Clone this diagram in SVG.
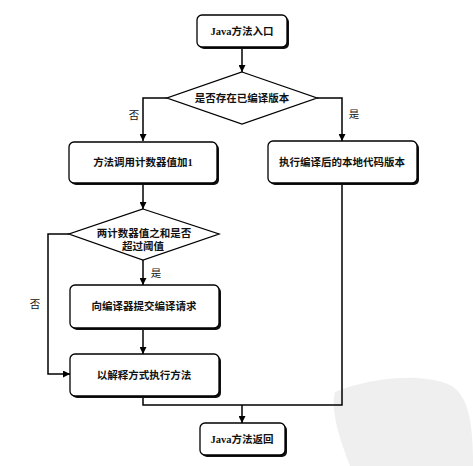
<svg xmlns="http://www.w3.org/2000/svg" width="473" height="466" viewBox="0 0 473 466">
<style>
.box{fill:#fff;stroke:#000;stroke-width:1.3}
.sh{fill:#111}
.t{font-family:"Liberation Serif","Noto Sans CJK SC",serif;font-size:10.5px;font-weight:bold;fill:#111;text-anchor:middle;dominant-baseline:central}
.l{font-family:"Noto Sans CJK SC",sans-serif;font-size:10.5px;fill:#111;text-anchor:middle;dominant-baseline:central}
.c{fill:none;stroke:#000;stroke-width:1.5}
</style>
<defs>
<marker id="a" viewBox="0 0 8 8" refX="8" refY="4" markerWidth="7" markerHeight="7" markerUnits="userSpaceOnUse" orient="auto">
<path d="M0,0 L8,4 L0,8 Z" fill="#000"/>
</marker>
</defs>
<rect width="473" height="466" fill="#fff"/>
<path id="watermark" d="M335,392 C370,378 420,372 450,385 C468,395 473,420 473,466 L350,466 C340,440 330,410 335,392 Z" fill="#efefef"/>
<g id="connectors">
<path class="c" d="M242,47 V72" marker-end="url(#a)"/>
<path class="c" d="M167,98 H143 V141" marker-end="url(#a)"/>
<path class="c" d="M317,98 H342 V141" marker-end="url(#a)"/>
<path class="c" d="M143,183 V209" marker-end="url(#a)"/>
<path class="c" d="M143,260 V285" marker-end="url(#a)"/>
<path class="c" d="M69,234 H48 V374 H70" marker-end="url(#a)"/>
<path class="c" d="M143,328 V354" marker-end="url(#a)"/>
<path class="c" d="M143,397 V405 H342 V183"/>
<path class="c" d="M242,405 V423" marker-end="url(#a)"/>
<text class="l" x="134" y="114">否</text>
<text class="l" x="354" y="113">是</text>
<text class="l" x="156" y="272">是</text>
<text class="l" x="35" y="303">否</text>
</g>
<g id="start">
<rect class="sh" x="199" y="17" width="90" height="32" rx="5"/>
<rect class="box" x="197" y="15" width="90" height="32" rx="5"/>
<text class="t" x="242" y="31">Java方法入口</text>
</g>
<g id="check1">
<path class="box" d="M242,72 L317,98 L242,124 L167,98 Z"/>
<text class="t" x="242" y="98">是否存在已编译版本</text>
</g>
<g id="inc">
<rect class="sh" x="71" y="144" width="148" height="41" rx="5"/>
<rect class="box" x="69" y="142" width="148" height="41" rx="5"/>
<text class="t" x="143" y="162">方法调用计数器值加1</text>
</g>
<g id="native">
<rect class="sh" x="270" y="143" width="149" height="42" rx="5"/>
<rect class="box" x="268" y="141" width="149" height="42" rx="5"/>
<text class="t" x="342" y="162">执行编译后的本地代码版本</text>
</g>
<g id="check2">
<path class="box" d="M143,209 L219,234 L143,260 L69,234 Z"/>
<text class="t" x="144" y="233">两计数器值之和是否</text>
<text class="t" x="143" y="246">超过阈值</text>
</g>
<g id="submit">
<rect class="sh" x="72" y="287" width="149" height="43" rx="5"/>
<rect class="box" x="70" y="285" width="149" height="43" rx="5"/>
<text class="t" x="144" y="306">向编译器提交编译请求</text>
</g>
<g id="interp">
<rect class="sh" x="72" y="356" width="149" height="42" rx="5"/>
<rect class="box" x="70" y="354" width="149" height="42" rx="5"/>
<text class="t" x="144" y="375">以解释方式执行方法</text>
</g>
<g id="end">
<rect class="sh" x="202" y="425" width="85" height="32" rx="5"/>
<rect class="box" x="200" y="423" width="85" height="32" rx="5"/>
<text class="t" x="242" y="439">Java方法返回</text>
</g>
</svg>
